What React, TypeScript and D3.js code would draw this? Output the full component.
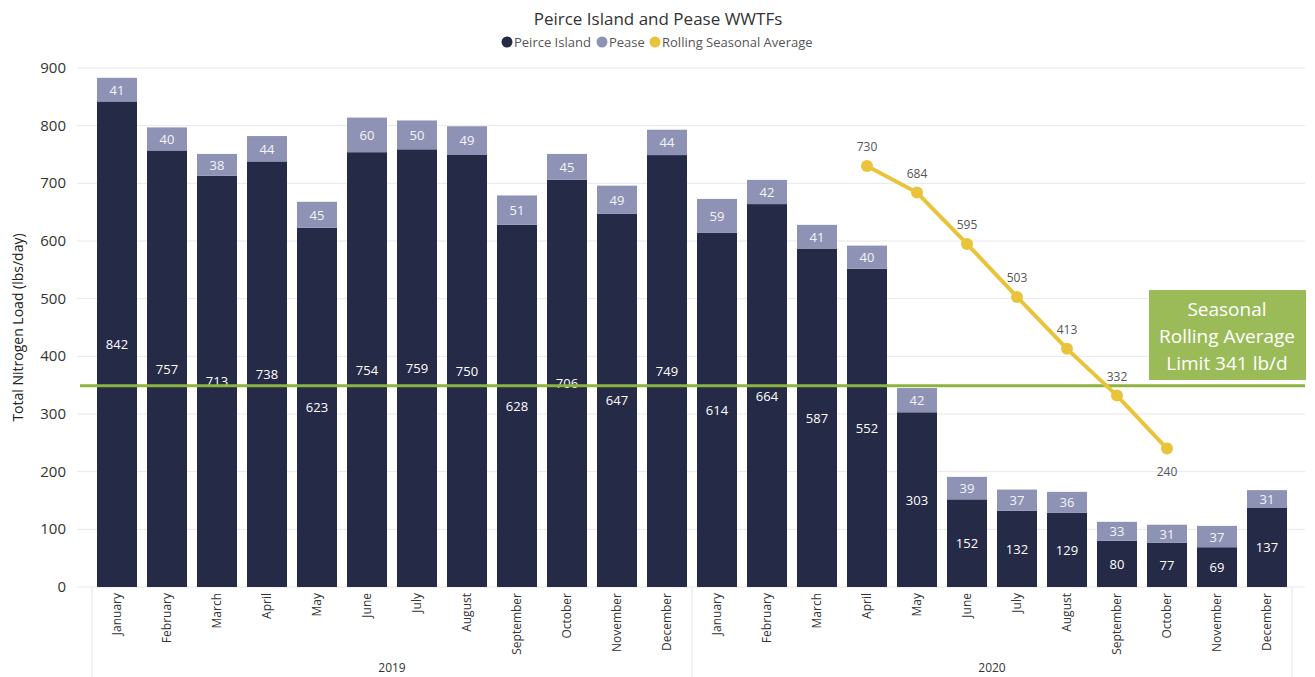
import React from "react";
import * as d3 from "d3";

const months = ["January","February","March","April","May","June","July","August","September","October","November","December"];
const years = ["2019", "2020"];
const peirce = [842,757,713,738,623,754,759,750,628,706,647,749,614,664,587,552,303,152,132,129,80,77,69,137];
const pease = [41,40,38,44,45,60,50,49,51,45,49,44,59,42,41,40,42,39,37,36,33,31,37,31];
const rollingIdx = [15,16,17,18,19,20,21];
const rollingVals = [730,684,595,503,413,332,240];
const yTicks = [0,100,200,300,400,500,600,700,800,900];
const limitValue = 349;

const W = 1315, H = 677;
const FONT = "'Open Sans', 'Noto Sans', sans-serif";

export default function App() {
  const keys = d3.range(24).map(String);
  const x = d3.scaleBand<string>().domain(keys).range([92, 1292]).paddingInner(0.2).paddingOuter(0.1);
  const y = d3.scaleLinear().domain([0, 900]).range([587, 68]);
  const bw = x.bandwidth();
  const cx = (i: number) => (x(String(i)) as number) + bw / 2;
  const line = d3.line<number>().x((_, j) => cx(rollingIdx[j])).y((v) => y(v));

  return (
    <svg width={W} height={H} style={{ position: "absolute", left: 0, top: 0, background: "#fff" }} fontFamily={FONT}>
      <text x={658} y={25} textAnchor="middle" fontSize={17} fill="#333">Peirce Island and Pease WWTFs</text>
      {[
        { label: "Peirce Island", color: "#252A47", x: 507 },
        { label: "Pease", color: "#8E93B5", x: 602 },
        { label: "Rolling Seasonal Average", color: "#E9C43B", x: 655 },
      ].map((l) => (
        <g key={l.label}>
          <circle cx={l.x} cy={42} r={5.5} fill={l.color} />
          <text x={l.x + 7} y={46.5} fontSize={13} fill="#555">{l.label}</text>
        </g>
      ))}

      {yTicks.map((t) => (
        <g key={t}>
          <line x1={77} x2={1305} y1={y(t)} y2={y(t)} stroke="#e8e8e8" strokeWidth={1} />
          <text x={66} y={y(t) + 5} textAnchor="end" fontSize={15} fill="#333">{t}</text>
        </g>
      ))}
      <text transform={`translate(23,${y(450)}) rotate(-90)`} textAnchor="middle" fontSize={14} fill="#222">Total Nitrogen Load (lbs/day)</text>

      {peirce.map((v, i) => {
        const p = pease[i];
        const x0 = x(String(i)) as number;
        return (
          <g key={i}>
            <rect x={x0} width={bw} y={y(v)} height={y(0) - y(v)} fill="#252A47" />
            <rect x={x0} width={bw} y={y(v + p)} height={y(v) - y(v + p)} fill="#8E93B5" />
            <text x={cx(i)} y={(y(v) + y(0)) / 2 + 5} textAnchor="middle" fontSize={13} fill="#fff">{v}</text>
            <text x={cx(i)} y={(y(v + p) + y(v)) / 2 + 5} textAnchor="middle" fontSize={13} fill="#f4f4f8">{p}</text>
          </g>
        );
      })}

      {keys.map((k, i) => (
        <text key={k} transform={`translate(${cx(i) + 4},593) rotate(-90)`} textAnchor="end" fontSize={12} fill="#333">{months[i % 12]}</text>
      ))}
      {[0, 12, 24].map((i) => {
        const xx = i < 24 ? (x(String(i)) as number) - x.step() * 0.1 : 1292;
        return <line key={i} x1={xx} x2={xx} y1={587} y2={677} stroke="#e3e3e3" strokeWidth={1} />;
      })}
      {years.map((yr, j) => (
        <text key={yr} x={(cx(j * 12 + 5) + cx(j * 12 + 6)) / 2} y={672} textAnchor="middle" fontSize={12} fill="#333">{yr}</text>
      ))}

      <line x1={80} x2={1305} y1={y(limitValue)} y2={y(limitValue)} stroke="#8DB33F" strokeWidth={3} />

      <path d={line(rollingVals) || ""} fill="none" stroke="#E9C43B" strokeWidth={4} />
      {rollingVals.map((v, j) => {
        const last = j === rollingVals.length - 1;
        return (
          <g key={j}>
            <circle cx={cx(rollingIdx[j])} cy={y(v)} r={6} fill="#E9C43B" />
            <text x={cx(rollingIdx[j])} y={last ? y(v) + 27 : y(v) - 15} textAnchor="middle" fontSize={12} fill="#555">{v}</text>
          </g>
        );
      })}

      <rect x={1149} y={290} width={157} height={90} fill="#9BBB59" />
      {["Seasonal", "Rolling Average", "Limit 341 lb/d"].map((t, i) => (
        <text key={t} x={1227} y={316 + i * 27} textAnchor="middle" fontSize={19} fill="#fff">{t}</text>
      ))}
    </svg>
  );
}
